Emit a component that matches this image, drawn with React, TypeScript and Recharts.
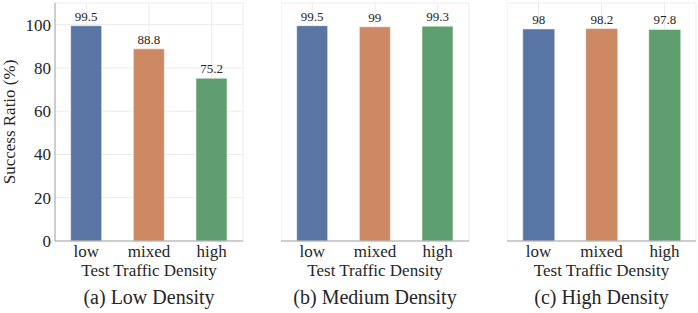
import {
  BarChart,
  Bar,
  Cell,
  XAxis,
  YAxis,
  CartesianGrid,
  LabelList,
} from 'recharts';

const densities = ['low', 'mixed', 'high'];
const lowDensity = [99.5, 88.8, 75.2];
const mediumDensity = [99.5, 99, 99.3];
const highDensity = [98, 98.2, 97.8];
const yTicks = [0, 20, 40, 60, 80, 100];
const panelTitles = ['(a) Low Density', '(b) Medium Density', '(c) High Density'];

const barColors = ['#5975A4', '#CC8963', '#5F9E6E'];

const FONT = 'Liberation Serif, Times New Roman, serif';
const TEXT = '#262626';
const GRID = '#EBEBEB';
const BORDER = '#A6A6A6';

interface PanelProps {
  values: number[];
  title: string;
  left: number;
  width: number;
  showYLabels: boolean;
}

function Panel({ values, title, left, width, showYLabels }: PanelProps) {
  const data = densities.map((d, i) => ({ density: d, value: values[i] }));
  const yWidth = showYLabels ? 55 : 0;

  // x axis title plus the panel caption underneath
  const xLabel = (props: any) => {
    const vb = props.viewBox;
    const cx = vb.x + vb.width / 2;
    return (
      <g>
        <text x={cx} y={vb.y + 35} textAnchor="middle" fill={TEXT} fontFamily={FONT} fontSize={17}>
          Test Traffic Density
        </text>
        <text x={cx} y={vb.y + 63} textAnchor="middle" fill={TEXT} fontFamily={FONT} fontSize={20}>
          {title}
        </text>
      </g>
    );
  };

  const yLabel = (props: any) => {
    const vb = props.viewBox;
    const x = vb.x + 14.5;
    const y = vb.y + vb.height / 2;
    return (
      <text
        x={x}
        y={y}
        transform={`rotate(-90 ${x} ${y})`}
        textAnchor="middle"
        fill={TEXT}
        fontFamily={FONT}
        fontSize={17}
      >
        Success Ratio (%)
      </text>
    );
  };

  return (
    <div style={{ position: 'absolute', left, top: 0 }}>
      <BarChart
        width={width}
        height={313}
        data={data}
        margin={{ top: 3, right: 1, bottom: 0, left: 0 }}
        barCategoryGap="25%"
      >
        <CartesianGrid stroke={GRID} strokeWidth={1} />
        <XAxis
          dataKey="density"
          height={72}
          tickLine={false}
          tickSize={0}
          tickMargin={4}
          axisLine={{ stroke: BORDER }}
          tick={{ fill: TEXT, fontFamily: FONT, fontSize: 17 }}
          interval={0}
          label={xLabel}
        />
        {/* top + right axes only draw the frame */}
        <XAxis
          xAxisId="top"
          dataKey="density"
          orientation="top"
          height={0}
          tick={false}
          tickLine={false}
          axisLine={{ stroke: BORDER }}
        />
        <YAxis
          width={yWidth}
          domain={[0, 110]}
          ticks={yTicks}
          tickLine={false}
          tickSize={0}
          tickMargin={4}
          axisLine={{ stroke: BORDER }}
          tick={showYLabels ? { fill: TEXT, fontFamily: FONT, fontSize: 17 } : false}
          label={showYLabels ? yLabel : undefined}
        />
        <YAxis
          yAxisId="right"
          orientation="right"
          width={0}
          domain={[0, 110]}
          tick={false}
          tickLine={false}
          axisLine={{ stroke: BORDER }}
        />
        <Bar dataKey="value" isAnimationActive={false} stroke="#ffffff" strokeOpacity={0.5} strokeWidth={1}>
          {data.map((d, i) => (
            <Cell key={d.density} fill={barColors[i]} />
          ))}
          <LabelList
            dataKey="value"
            position="top"
            offset={5}
            fill={TEXT}
            fontFamily={FONT}
            fontSize={13}
          />
        </Bar>
      </BarChart>
    </div>
  );
}

export default function App() {
  return (
    <div
      style={{
        position: 'absolute',
        left: 0,
        top: 0,
        width: 698,
        height: 313,
        background: '#ffffff',
      }}
    >
      <Panel values={lowDensity} title={panelTitles[0]} left={0} width={244} showYLabels />
      <Panel values={mediumDensity} title={panelTitles[1]} left={281} width={189} showYLabels={false} />
      <Panel values={highDensity} title={panelTitles[2]} left={507} width={190} showYLabels={false} />
    </div>
  );
}
